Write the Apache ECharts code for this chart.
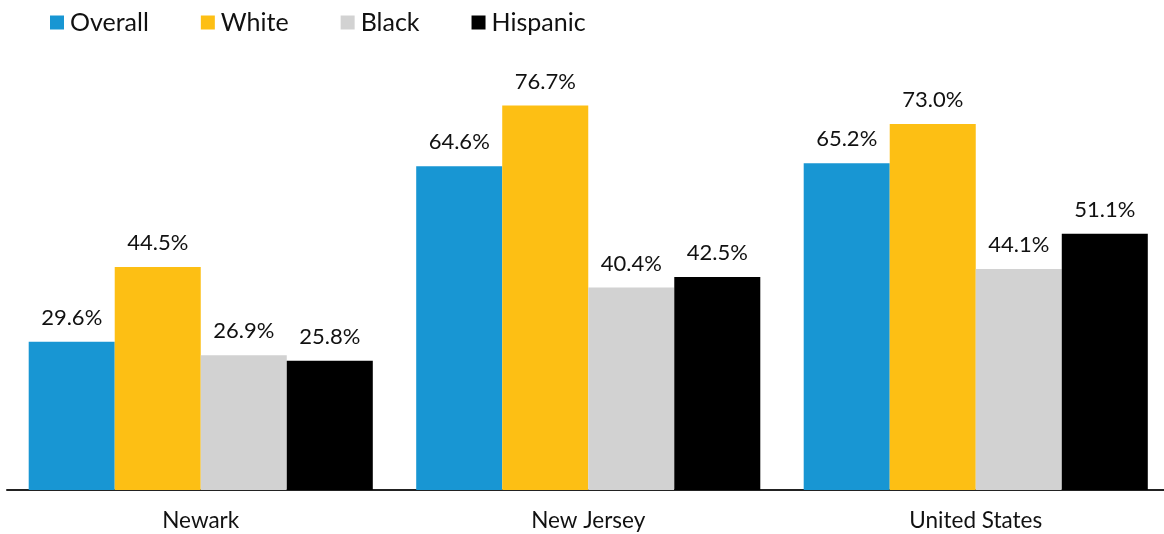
<!DOCTYPE html>
<html>
<head>
<meta charset="utf-8">
<script src="https://cdn.jsdelivr.net/npm/echarts@6/dist/echarts.min.js"></script>
<style>
html,body{margin:0;padding:0;background:#fff;overflow:hidden;width:1164px;height:534px;}
#chart{width:1170px;height:534px;}
</style>
</head>
<body>
<div id="chart"></div>
<script>
const categories = ['Newark', 'New Jersey', 'United States'];
const seriesNames = ['Overall', 'White', 'Black', 'Hispanic'];
const overall = [29.6, 64.6, 65.2];
const white = [44.5, 76.7, 73.0];
const black = [26.9, 40.4, 44.1];
const hispanic = [25.8, 42.5, 51.1];
const colors = ['#1896D3', '#FDBF14', '#D2D2D2', '#000000'];

const chart = echarts.init(document.getElementById('chart'));
const FONT = 'Lato, "Open Sans", sans-serif';
const mk = (name, data, color) => ({
  name, type: 'bar', data,
  barGap: '0%', barCategoryGap: '11.2%',
  itemStyle: { color },
  label: {
    show: true, position: 'top', distance: 13,
    formatter: p => p.value.toFixed(1) + '%',
    fontFamily: FONT, fontSize: 22, color: '#111'
  }
});
chart.setOption({
  animation: false,
  textStyle: { fontFamily: FONT },
  legend: {
    left: 45, top: 5,
    itemWidth: 14, itemHeight: 14, itemGap: 52,
    icon: 'rect',
    textStyle: { fontFamily: FONT, fontSize: 25, color: '#111', padding: [0,0,0,1] },
    data: seriesNames
  },
  grid: { left: 7, top: 89, width: 1162.5, height: 401, containLabel: false },
  xAxis: {
    type: 'category', data: categories,
    axisLine: { lineStyle: { color: '#222', width: 2 } },
    axisTick: { show: false },
    axisLabel: { fontFamily: FONT, fontSize: 22.5, color: '#111', margin: 19 }
  },
  yAxis: { type: 'value', min: 0, max: 80, show: false, splitLine: { show: false } },
  series: [
    mk(seriesNames[0], overall, colors[0]),
    mk(seriesNames[1], white, colors[1]),
    mk(seriesNames[2], black, colors[2]),
    mk(seriesNames[3], hispanic, colors[3])
  ]
});
</script>
</body>
</html>
